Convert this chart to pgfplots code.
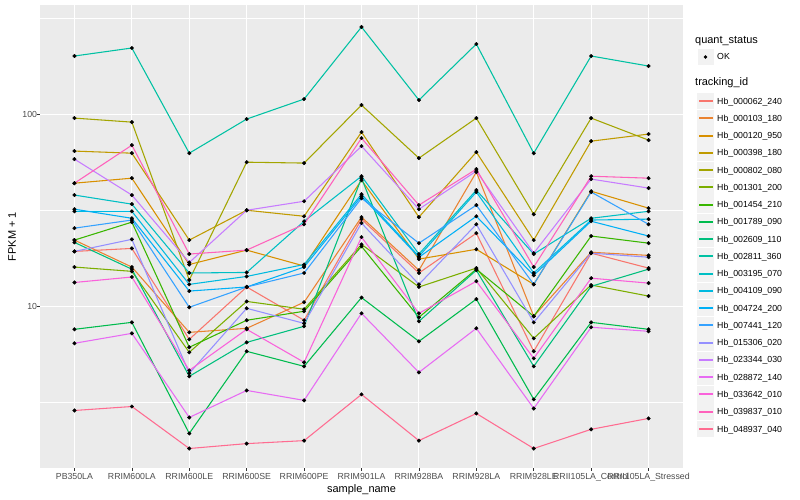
\documentclass[border=0pt]{standalone}
\usepackage{fontspec}
\setmainfont{Liberation Sans}
\usepackage{pgfplots}
\usepackage{pgfplotstable}
\pgfplotsset{compat=1.18}
\definecolor{c1}{HTML}{F8766D}
\definecolor{c2}{HTML}{EA8331}
\definecolor{c3}{HTML}{D89000}
\definecolor{c4}{HTML}{C09B00}
\definecolor{c5}{HTML}{A3A500}
\definecolor{c6}{HTML}{7CAE00}
\definecolor{c7}{HTML}{39B600}
\definecolor{c8}{HTML}{00BB4E}
\definecolor{c9}{HTML}{00BF7D}
\definecolor{c10}{HTML}{00C1A3}
\definecolor{c11}{HTML}{00BFC4}
\definecolor{c12}{HTML}{00BAE0}
\definecolor{c13}{HTML}{00B0F6}
\definecolor{c14}{HTML}{35A2FF}
\definecolor{c15}{HTML}{9590FF}
\definecolor{c16}{HTML}{C77CFF}
\definecolor{c17}{HTML}{E76BF3}
\definecolor{c18}{HTML}{FA62DB}
\definecolor{c19}{HTML}{FF62BC}
\definecolor{c20}{HTML}{FF6C91}
\definecolor{gg92}{HTML}{EBEBEB}
\definecolor{gg95}{HTML}{F2F2F2}
\definecolor{gg30}{HTML}{4D4D4D}
\definecolor{gg20}{HTML}{333333}
\pgfplotstableread{
x s1 s2 s3 s4 s5 s6 s7 s8 s9 s10 s11 s12 s13 s14 s15 s16 s17 s18 s19 s20
1 19.3 22.1 43.7 64.2 95.3 16.0 22.1 7.59 21.5 200.5 37.9 31.2 32.0 25.5 19.3 58.3 6.42 13.3 43.7 2.87
2 20.0 16.0 46.4 62.6 90.8 15.2 27.4 8.25 15.6 220.7 34.0 31.2 28.7 28.1 22.3 37.9 7.23 14.2 68.9 3.01
3 6.73 7.32 16.5 22.1 13.7 5.76 6.12 2.18 4.32 62.6 14.9 13.0 12.0 9.88 4.48 16.9 2.64 4.64 18.7 1.82
4 12.6 7.68 19.6 31.6 56.2 10.6 8.46 5.83 6.49 94.2 15.0 14.3 12.6 12.6 9.76 31.6 3.65 7.59 19.6 1.93
5 8.46 10.5 16.2 29.4 55.6 9.65 9.42 4.87 7.87 119.7 27.7 16.5 16.0 14.9 8.15 35.2 3.24 5.11 26.7 2.00
6 28.4 29.1 45.3 80.6 111.4 21.0 20.5 11.1 46.4 283.9 47.5 38.3 37.4 36.5 27.1 68.1 9.19 22.9 75.0 3.48
7 14.9 15.4 17.6 29.1 59.0 12.6 8.76 6.57 8.35 118.3 18.7 18.2 18.0 21.3 13.0 32.0 4.53 9.19 33.6 2.00
8 24.0 49.9 19.8 63.4 95.3 15.8 15.6 10.9 15.4 231.5 40.2 39.3 29.4 33.6 26.7 50.5 7.68 13.5 51.7 2.77
9 5.83 8.87 13.0 22.1 30.1 6.81 8.87 3.28 4.87 62.6 18.7 14.9 14.5 13.0 8.25 18.9 2.94 5.36 16.0 1.82
10 18.9 19.1 39.7 72.3 95.3 12.9 23.2 8.25 12.7 200.5 28.7 28.1 27.7 39.3 18.9 45.9 7.78 14.0 47.5 2.29
11 15.8 18.4 32.4 78.7 73.2 11.3 21.3 7.59 15.6 177.8 31.2 28.4 23.2 26.7 18.0 41.2 7.41 13.2 46.4 2.61
}\datatable
\begin{document}
\begin{tikzpicture}[x=1bp,y=1bp]
\fill[white] (0,0) rectangle (800,500);
\begin{axis}[
  at={(40bp,32bp)}, anchor=south west, scale only axis,
  width=643bp, height=463bp,
  xmin=0.4, xmax=11.6, ymode=log, ymin=1.441, ymax=369.5,
  xtick={1,...,11},
  xticklabels={PB350LA,RRIM600LA,RRIM600LE,RRIM600SE,RRIM600PE,RRIM901LA,RRIM928BA,RRIM928LA,RRIM928LE,RRII105LA\_Control,RRII105LA\_Stressed},
  ytick={10,100}, yticklabels={10,100},
  minor ytick={3.1623,31.623,316.23},
  grid=both,
  major grid style={white, line width=1.07bp},
  minor grid style={white, line width=0.53bp},
  axis background/.style={fill=gg92},
  axis line style={draw=none},
  tick align=outside, major tick length=2.75bp, minor tick length=0pt,
  tick style={gg20, line width=0.53bp},
  xtick pos=bottom, ytick pos=left,
  /pgf/number format/assume math mode=true,
  ticklabel style={font=\fontsize{8.8}{10}\selectfont, text=gg30},
  xticklabel style={anchor=base, inner sep=0pt, yshift=-9bp},
  yticklabel style={anchor=east, inner sep=0pt, xshift=0bp},
]
\pgfplotsinvokeforeach{1,...,20}{
  \addplot[c#1, line width=1.07bp, no marks] table[x=x, y=s#1]{\datatable};
}
\pgfplotsinvokeforeach{1,...,20}{
  \addplot[only marks, mark=*, mark size=1.8bp, black] table[x=x, y=s#1]{\datatable};
}
\end{axis}
\node[anchor=base, inner sep=0pt, font=\fontsize{11}{13}\selectfont] at (361.5,7) {sample\_name};
\node[rotate=90, inner sep=0pt, font=\fontsize{11}{13}\selectfont] at (12,263.5) {FPKM + 1};
% legend
\node[anchor=base west, inner sep=0pt, font=\fontsize{11}{13}\selectfont] at (695,456) {quant\_status};
\fill[gg95, draw=white, line width=0.5bp] (697,434.5) rectangle (714,451.5);
\fill[black] (705.5,443) circle (1.9);
\node[anchor=base west, inner sep=0pt, font=\fontsize{8.8}{10}\selectfont] at (717,440) {OK};
\node[anchor=base west, inner sep=0pt, font=\fontsize{11}{13}\selectfont] at (695,414) {tracking\_id};
\foreach \n [count=\i] in {000062\_240,000103\_180,000120\_950,000398\_180,000802\_080,001301\_200,001454\_210,001789\_090,002609\_110,002811\_360,003195\_070,004109\_090,004724\_200,007441\_120,015306\_020,023344\_030,028872\_140,033642\_010,039837\_010,048937\_040}{
  \pgfmathsetmacro\yc{399-17.26*(\i-1)}
  \pgfmathsetmacro\ya{round(\yc)-0.6}
  \pgfmathsetmacro\yb{round(\yc)+0.6}
  \fill[gg95] (697.3,\yc-8.3) rectangle (713.7,\yc+8.3);
  \fill[c\i] (698.5,\ya) rectangle (712.5,\yb);
  \node[anchor=base west, inner sep=0pt, font=\fontsize{8.8}{10}\selectfont] at (717,\yc-3.1) {Hb\_\n};
}
\end{tikzpicture}
\end{document}
